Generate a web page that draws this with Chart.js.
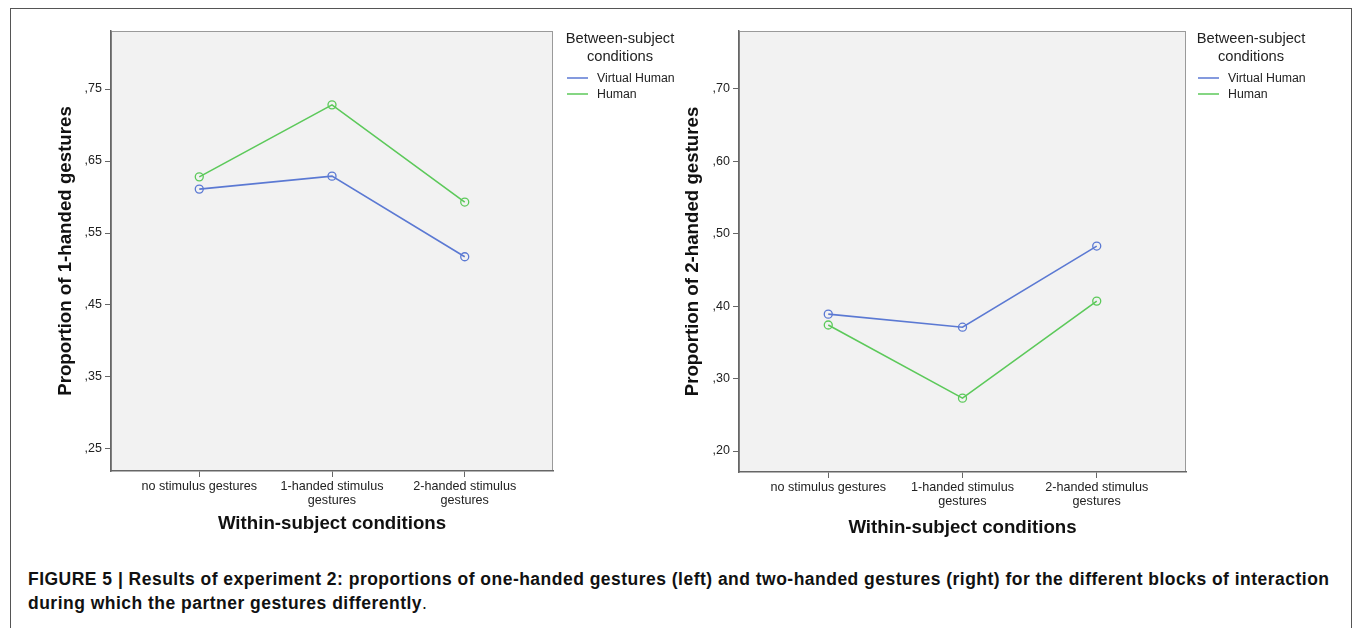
<!DOCTYPE html>
<html>
<head>
<meta charset="utf-8">
<script src="https://cdn.jsdelivr.net/npm/chart.js@4/dist/chart.umd.min.js"></script>
<style>
  html, body { margin: 0; padding: 0; background: #fff; overflow: hidden; }
  body { width: 1355px; height: 628px; position: relative; font-family: "Liberation Sans", Arial, sans-serif; }
  #frame { position: absolute; left: 10px; top: 8px; width: 1342px; height: 640px; border: 1px solid #555; box-sizing: border-box; }
  .chartBox { position: absolute; top: 0; height: 545px; }
  #leftBox { left: 0; width: 677px; }
  #rightBox { left: 677px; width: 675px; }
  #caption { position: absolute; left: 28px; top: 567px; font-size: 17.5px; letter-spacing: 0.48px; line-height: 24px; color: #111; font-weight: bold; white-space: nowrap; }
  #caption span { font-weight: normal; }
</style>
</head>
<body>
<div id="frame"></div>
<div class="chartBox" id="leftBox"><canvas id="leftChart"></canvas></div>
<div class="chartBox" id="rightBox"><canvas id="rightChart"></canvas></div>
<div id="caption">FIGURE 5 | Results of experiment 2: proportions of one-handed gestures (left) and two-handed gestures (right) for the different blocks of interaction<br>during which the partner gestures differently<span>.</span></div>

<script>
// --- data ---
const categories = [['no stimulus gestures'], ['1-handed stimulus', 'gestures'], ['2-handed stimulus', 'gestures']];
const seriesNames = ['Virtual Human', 'Human'];
const seriesColors = ['#5b79d3', '#5cc95a'];
const legendTitle = ['Between-subject', 'conditions'];

const oneHandedVirtual = [0.611, 0.629, 0.517];
const oneHandedHuman = [0.628, 0.728, 0.593];
const twoHandedVirtual = [0.389, 0.371, 0.483];
const twoHandedHuman = [0.374, 0.273, 0.407];

const leftTicks = [0.25, 0.35, 0.45, 0.55, 0.65, 0.75];
const rightTicks = [0.20, 0.30, 0.40, 0.50, 0.60, 0.70];
const leftRange = [0.2194, 0.8306];
const rightRange = [0.171, 0.780];

Chart.defaults.font.family = '"Liberation Sans", Arial, sans-serif';
Chart.defaults.color = '#222';

// fond gris de la zone + cadre + légende à droite
const plotFrame = {
    id: 'plotFrame',
    beforeDraw(chart) {
        const { ctx, chartArea: a } = chart;
        ctx.save();
        ctx.fillStyle = '#f2f2f2';
        ctx.fillRect(a.left, a.top, a.width, a.height);
        ctx.strokeStyle = '#9a9a9a';
        ctx.lineWidth = 1;
        ctx.strokeRect(a.left + 0.5, a.top + 0.5, a.width - 1, a.height - 1);
        ctx.restore();
    },
    afterDraw(chart, args, opts) {
        const { ctx } = chart;
        ctx.save();
        ctx.fillStyle = '#222';
        ctx.textBaseline = 'middle';
        ctx.textAlign = 'center';
        ctx.font = '14.7px "Liberation Sans", Arial, sans-serif';
        legendTitle.forEach((t, i) => ctx.fillText(t, opts.x, opts.y + i * 18));
        ctx.textAlign = 'left';
        ctx.font = '12.3px "Liberation Sans", Arial, sans-serif';
        chart.data.datasets.forEach((ds, i) => {
            const y = opts.y + 39 + i * 16;
            ctx.strokeStyle = ds.borderColor;
            ctx.lineWidth = 1.5;
            ctx.beginPath();
            ctx.moveTo(opts.x - 53, y);
            ctx.lineTo(opts.x - 32, y);
            ctx.stroke();
            ctx.fillText(ds.label, opts.x - 23, y + 1);
        });
        ctx.restore();
    }
};

function makeChart(canvasId, values, yTicks, yRange, yTitle, cfg) {
    const datasets = values.map((vals, i) => ({
        label: seriesNames[i],
        data: vals.map((v, j) => ({ x: j, y: v })),
        borderColor: seriesColors[i],
        backgroundColor: 'transparent',
        borderWidth: 1.6,
        pointRadius: 4,
        pointBorderWidth: 1.3,
        pointBackgroundColor: 'transparent',
        pointBorderColor: seriesColors[i],
        tension: 0
    }));

    return new Chart(document.getElementById(canvasId), {
        type: 'line',
        data: { datasets },
        options: {
            responsive: true,
            maintainAspectRatio: false,
            animation: false,
            layout: { padding: { top: 31, right: cfg.padRight, left: 0, bottom: 0 } },
            plugins: {
                legend: { display: false },
                tooltip: { enabled: false },
                plotFrame: { x: cfg.legendX, y: 39 }
            },
            scales: {
                x: {
                    type: 'linear',
                    min: -0.665,
                    max: 2.665,
                    afterBuildTicks: (scale) => { scale.ticks = categories.map((c, i) => ({ value: i })); },
                    afterFit: (scale) => { scale.height = 545 - cfg.bottom; },
                    ticks: {
                        callback: (v) => categories[v],
                        font: { size: 12.6, lineHeight: 1.12 },
                        color: '#222',
                        padding: 2,
                        maxRotation: 0,
                        autoSkip: false
                    },
                    grid: { drawOnChartArea: false, drawTicks: true, tickLength: 6, color: '#666' },
                    border: { display: true, color: '#666', width: 1.5 },
                    title: {
                        display: true,
                        text: 'Within-subject conditions',
                        font: { size: 18.7, weight: 'bold' },
                        color: '#111',
                        padding: { top: 0, bottom: cfg.xTitlePad }
                    }
                },
                y: {
                    min: yRange[0],
                    max: yRange[1],
                    afterBuildTicks: (scale) => { scale.ticks = yTicks.map(v => ({ value: v })); },
                    afterFit: (scale) => { scale.width = cfg.left; },
                    ticks: {
                        callback: (v) => v.toFixed(2).replace('0.', ','),
                        font: { size: 12.5 },
                        color: '#222',
                        padding: 3
                    },
                    grid: { drawOnChartArea: false, drawTicks: true, tickLength: 6, color: '#666' },
                    border: { display: true, color: '#666', width: 1.5 },
                    title: {
                        display: true,
                        text: yTitle,
                        font: { size: 18.7, weight: 'bold' },
                        color: '#111',
                        padding: { top: cfg.yTitlePad, bottom: 0 }
                    }
                }
            }
        },
        plugins: [plotFrame]
    });
}

makeChart('leftChart', [oneHandedVirtual, oneHandedHuman], leftTicks, leftRange,
    'Proportion of 1-handed gestures',
    { left: 111, padRight: 124, bottom: 471, legendX: 620, xTitlePad: 10, yTitlePad: 55 });

makeChart('rightChart', [twoHandedVirtual, twoHandedHuman], rightTicks, rightRange,
    'Proportion of 2-handed gestures',
    { left: 62, padRight: 166, bottom: 472, legendX: 574, xTitlePad: 6, yTitlePad: 5 });
</script>
</body>
</html>
